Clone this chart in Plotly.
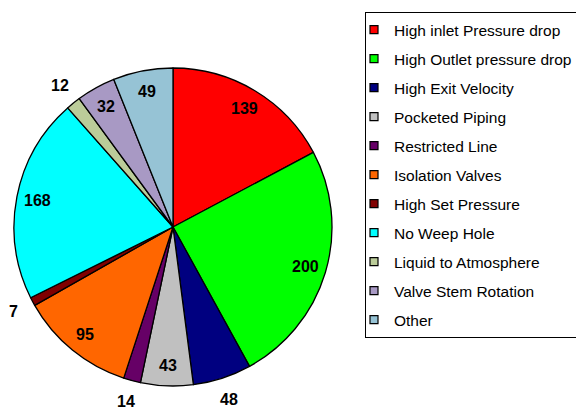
import math
import plotly.graph_objects as go

categories = ["High inlet Pressure drop", "High Outlet pressure drop", "High Exit Velocity",
              "Pocketed Piping", "Restricted Line", "Isolation Valves", "High Set Pressure",
              "No Weep Hole", "Liquid to Atmosphere", "Valve Stem Rotation", "Other"]
values = [139, 200, 48, 43, 14, 95, 7, 168, 12, 32, 49]
colors = ["#FF0000", "#00FF00", "#000080", "#C0C0C0", "#660066", "#FF6600", "#800000",
          "#00FFFF", "#BBCC99", "#A899C4", "#96C3D5"]
label_outside = [False, False, True, False, True, False, True, False, True, False, False]

W, H = 576, 409
FONT = "Liberation Sans, Arial, sans-serif"

# pie box in pixels (margins are zero, so paper == figure)
PX0, PX1, PY0, PY1 = 13, 333, 68, 386

fig = go.Figure()
fig.add_trace(go.Pie(
    labels=categories, values=values, sort=False, direction="clockwise", rotation=0,
    marker=dict(colors=colors, line=dict(color="black", width=1.3)),
    textinfo="none",
    domain=dict(x=[PX0 / W, PX1 / W], y=[(H - PY1) / H, (H - PY0) / H]),
    showlegend=False, hoverinfo="label+value",
))

# data labels placed along each slice's mid-angle (derived from the values)
cx, cy = (PX0 + PX1) / 2, (PY0 + PY1) / 2
r = min(PX1 - PX0, PY1 - PY0) / 2
total = sum(values)
cum = 0
for v, out in zip(values, label_outside):
    mid = (cum + v / 2) / total * 2 * math.pi
    cum += v
    dist = r + 22 if out else r * 0.87
    px = cx + dist * math.sin(mid)
    py = cy - dist * math.cos(mid)
    fig.add_annotation(x=px / W, y=1 - py / H, xref="paper", yref="paper",
                       text=str(v), showarrow=False, xanchor="center", yanchor="middle",
                       font=dict(family=FONT, size=16, color="black", weight="bold"))

# legend entries (one per category) so the legend rows can be spaced like the original
for i, (name, c) in enumerate(zip(categories, colors)):
    fig.add_trace(go.Scatter(
        x=[None], y=[None], mode="markers", name=name, legendgroup=f"g{i}",
        marker=dict(symbol="square", size=8, color=c, line=dict(color="black", width=1.2)),
        showlegend=True, hoverinfo="skip",
    ))

fig.update_layout(
    width=W, height=H, margin=dict(l=0, r=0, t=0, b=0, autoexpand=False),
    paper_bgcolor="white", plot_bgcolor="white",
    font=dict(family=FONT, size=15.5, color="black"),
    xaxis=dict(visible=False), yaxis=dict(visible=False),
    legend=dict(x=365 / W, xanchor="left", y=1 - 12 / H, yanchor="top",
                bordercolor="black", borderwidth=1, bgcolor="white",
                traceorder="grouped", tracegroupgap=5.85, indentation=-12,
                font=dict(family=FONT, size=15.5, color="black"), itemwidth=30),
)

fig.write_html("out.html")
